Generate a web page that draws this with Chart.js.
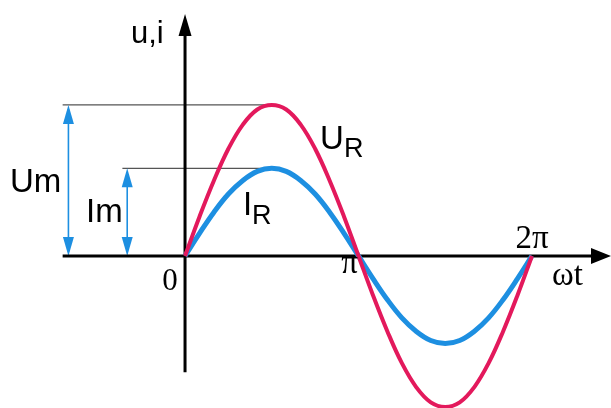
<!DOCTYPE html>
<html>
<head>
<meta charset="utf-8">
<script src="https://cdn.jsdelivr.net/npm/chart.js@4"></script>
<style>
  html, body { margin: 0; padding: 0; background: #fff; }
  #wrap { width: 611px; height: 408px; position: relative; }
</style>
</head>
<body>
<div id="wrap"><canvas id="sineChart"></canvas></div>
<script>
// phase angle ωt in degrees
const phaseDeg = [0, 15, 30, 45, 60, 75, 90, 105, 120, 135, 150, 165, 180,
  195, 210, 225, 240, 255, 270, 285, 300, 315, 330, 345, 360];

// voltage u_R (Um = 1)
const uR = [0, 0.26, 0.50, 0.71, 0.87, 0.97, 1.00, 0.97, 0.87, 0.71, 0.50, 0.26, 0,
  -0.26, -0.50, -0.71, -0.87, -0.97, -1.00, -0.97, -0.87, -0.71, -0.50, -0.26, 0];

// current i_R
const iR = [0, 0.15, 0.29, 0.41, 0.50, 0.56, 0.58, 0.56, 0.50, 0.41, 0.29, 0.15, 0,
  -0.15, -0.29, -0.41, -0.50, -0.56, -0.58, -0.56, -0.50, -0.41, -0.29, -0.15, 0];

const tickValues = [0, 180, 360];
const tickLabels = ["0", "π", "2π"];
const Um = 1.00;
const Im = 0.58;

const U_COLOR = "#e3195c";
const I_COLOR = "#1d8fe1";

function arrowHead(ctx, x, y, dir, len, half) {
  ctx.beginPath();
  if (dir === "up") {
    ctx.moveTo(x, y);
    ctx.lineTo(x - half, y + len);
    ctx.lineTo(x + half, y + len);
  } else if (dir === "down") {
    ctx.moveTo(x, y);
    ctx.lineTo(x - half, y - len);
    ctx.lineTo(x + half, y - len);
  } else {
    ctx.moveTo(x, y);
    ctx.lineTo(x - len, y - half);
    ctx.lineTo(x - len, y + half);
  }
  ctx.closePath();
  ctx.fill();
}

// axes, guide lines and Um / Im arrows go under the curves
const axesPlugin = {
  id: "axes",
  beforeDatasetsDraw(chart) {
    const ctx = chart.ctx;
    const xs = chart.scales.x, ys = chart.scales.y;
    const x0 = xs.getPixelForValue(0), y0 = ys.getPixelForValue(0);
    ctx.save();

    // horizontal guide lines to the peaks
    ctx.strokeStyle = "#555";
    ctx.lineWidth = 1.2;
    ctx.beginPath();
    ctx.moveTo(xs.getPixelForValue(-127), ys.getPixelForValue(Um));
    ctx.lineTo(xs.getPixelForValue(92), ys.getPixelForValue(Um));
    ctx.moveTo(xs.getPixelForValue(-65), ys.getPixelForValue(Im));
    ctx.lineTo(xs.getPixelForValue(92), ys.getPixelForValue(Im));
    ctx.stroke();

    // Um and Im double arrows
    ctx.strokeStyle = I_COLOR;
    ctx.fillStyle = I_COLOR;
    ctx.lineWidth = 1.6;
    [[-121, Um], [-60, Im]].forEach(([v, amp]) => {
      const ax = xs.getPixelForValue(v);
      const top = ys.getPixelForValue(amp);
      ctx.beginPath();
      ctx.moveTo(ax, top + 4);
      ctx.lineTo(ax, y0 - 4);
      ctx.stroke();
      arrowHead(ctx, ax, top, "up", 19, 5.5);
      arrowHead(ctx, ax, y0, "down", 19, 5.5);
    });

    // main axes
    ctx.strokeStyle = "#000";
    ctx.fillStyle = "#000";
    ctx.lineWidth = 3;
    ctx.beginPath();
    ctx.moveTo(xs.getPixelForValue(-127), y0);
    ctx.lineTo(chart.width - 16, y0);
    ctx.moveTo(x0, ys.getPixelForValue(-0.77));
    ctx.lineTo(x0, 30);
    ctx.stroke();
    arrowHead(ctx, chart.width, y0, "right", 20, 8);
    arrowHead(ctx, x0, 14, "up", 22, 6.5);
    ctx.restore();
  },
  afterDraw(chart) {
    const ctx = chart.ctx;
    const xs = chart.scales.x;
    ctx.save();
    ctx.fillStyle = "#000";
    ctx.textBaseline = "alphabetic";

    // sans labels
    ctx.textAlign = "left";
    ctx.font = "31px 'Liberation Sans', Arial, sans-serif";
    ctx.fillText("u,i", 131, 43);
    ctx.font = "33px 'Liberation Sans', Arial, sans-serif";
    ctx.fillText("Um", 10, 192);
    ctx.fillText("Im", 86, 222);
    ctx.fillText("U", 320, 149);
    ctx.fillText("I", 243, 215);
    ctx.font = "27px 'Liberation Sans', Arial, sans-serif";
    ctx.fillText("R", 344, 157);
    ctx.fillText("R", 252, 224);

    // serif tick labels
    ctx.textAlign = "center";
    const tickPos = [[-15, 290, 31], [-9, 273, 33], [0, 248, 33]];
    tickValues.forEach((v, i) => {
      ctx.font = tickPos[i][2] + "px 'Liberation Serif', 'Times New Roman', serif";
      ctx.fillText(tickLabels[i], xs.getPixelForValue(v) + tickPos[i][0], tickPos[i][1]);
    });
    ctx.textAlign = "left";
    ctx.font = "33px 'Liberation Serif', 'Times New Roman', serif";
    ctx.fillText("ωt", 552, 285);
    ctx.restore();
  }
};

const ctx = document.querySelector("#sineChart");

new Chart(ctx, {
  type: "line",
  data: {
    datasets: [
      {
        label: "UR",
        data: phaseDeg.map((p, i) => ({ x: p, y: uR[i] })),
        borderColor: U_COLOR,
        borderWidth: 4,
        pointRadius: 0,
        tension: 0.4,
        fill: false
      },
      {
        label: "IR",
        data: phaseDeg.map((p, i) => ({ x: p, y: iR[i] })),
        borderColor: I_COLOR,
        borderWidth: 5,
        pointRadius: 0,
        tension: 0.4,
        fill: false
      }
    ]
  },
  options: {
    responsive: true,
    maintainAspectRatio: false,
    animation: false,
    clip: false,
    layout: { padding: 0 },
    plugins: {
      legend: { display: false },
      tooltip: { enabled: false }
    },
    scales: {
      x: { type: "linear", display: false, min: -192, max: 442 },
      y: { type: "linear", display: false, min: -1.007, max: 1.695 }
    }
  },
  plugins: [axesPlugin]
});
</script>
</body>
</html>
